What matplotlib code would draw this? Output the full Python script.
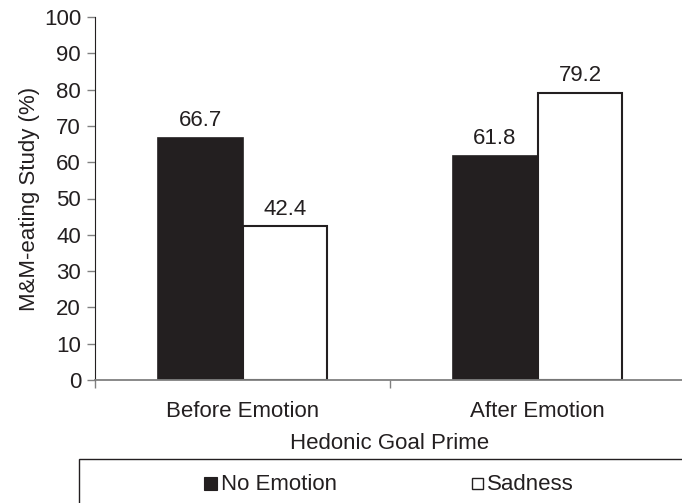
import numpy as np
import matplotlib.pyplot as plt
from matplotlib.patches import Rectangle

plt.rcParams['font.family'] = ['Liberation Sans', 'DejaVu Sans']

categories = ["Before Emotion", "After Emotion"]
series_names = ["No Emotion", "Sadness"]
no_emotion = [66.7, 61.8]
sadness = [42.4, 79.2]
y_ticks = [0, 10, 20, 30, 40, 50, 60, 70, 80, 90, 100]

fs = 16
ink = "#231f20"

fig = plt.figure(figsize=(6.82, 5.03), dpi=100)
ax = fig.add_axes([95 / 682, 1 - 380 / 503, 590 / 682, 363 / 503])

x = np.arange(len(categories))
w = 0.288
b1 = ax.bar(x - w / 2, no_emotion, w, color=ink, edgecolor=ink, linewidth=1.2)
b2 = ax.bar(x + w / 2, sadness, w, color="white", edgecolor=ink, linewidth=1.5)

for bars, vals in [(b1, no_emotion), (b2, sadness)]:
    for r, v in zip(bars, vals):
        ax.text(r.get_x() + r.get_width() / 2, v + 1.8, f"{v:.1f}",
                ha="center", va="bottom", fontsize=fs, color=ink)

ax.set_xlim(-0.5, 1.5)
ax.set_ylim(0, 100)
ax.set_yticks(y_ticks)
ax.set_xticks([-0.5, 0.5, 1.5])
ax.set_xticklabels([])
ax.set_xticks(x, minor=True)
ax.set_xticklabels(categories, minor=True, fontsize=fs, color=ink)
ax.tick_params(axis="x", which="minor", length=0, pad=15)
ax.tick_params(axis="x", which="major", length=6, width=1, color="#808080", direction="out")
ax.tick_params(axis="y", length=6, width=1, color="#808080", labelsize=fs,
               labelcolor=ink, direction="out", pad=4)

for s in ["top", "right"]:
    ax.spines[s].set_visible(False)
ax.spines["left"].set_color(ink)
ax.spines["bottom"].set_color("#808080")
ax.spines["bottom"].set_linewidth(1.3)

ax.set_ylabel("M&M-eating Study (%)", fontsize=fs, color=ink, labelpad=3)
ax.set_xlabel("Hedonic Goal Prime", fontsize=fs, color=ink, labelpad=8)

# legend box running off the bottom/right edge
fig.patches.append(Rectangle((79 / 682, -0.05), 0.95, (503 - 459) / 503 + 0.05,
                             transform=fig.transFigure, fill=False,
                             edgecolor=ink, linewidth=1.0))
base = 1 - 490 / 503
fig.patches.append(Rectangle((204 / 682, base), 13 / 682, 13 / 503,
                             transform=fig.transFigure, facecolor=ink,
                             edgecolor=ink, linewidth=0.8))
fig.text(221 / 682, base, series_names[0], fontsize=fs, va="baseline", color=ink)
fig.patches.append(Rectangle((472 / 682, 1 - 488.5 / 503), 11 / 682, 11 / 503,
                             transform=fig.transFigure, facecolor="white",
                             edgecolor=ink, linewidth=1.0))
fig.text(487 / 682, base, series_names[1], fontsize=fs, va="baseline", color=ink)

fig.savefig("out.png", dpi=100)
